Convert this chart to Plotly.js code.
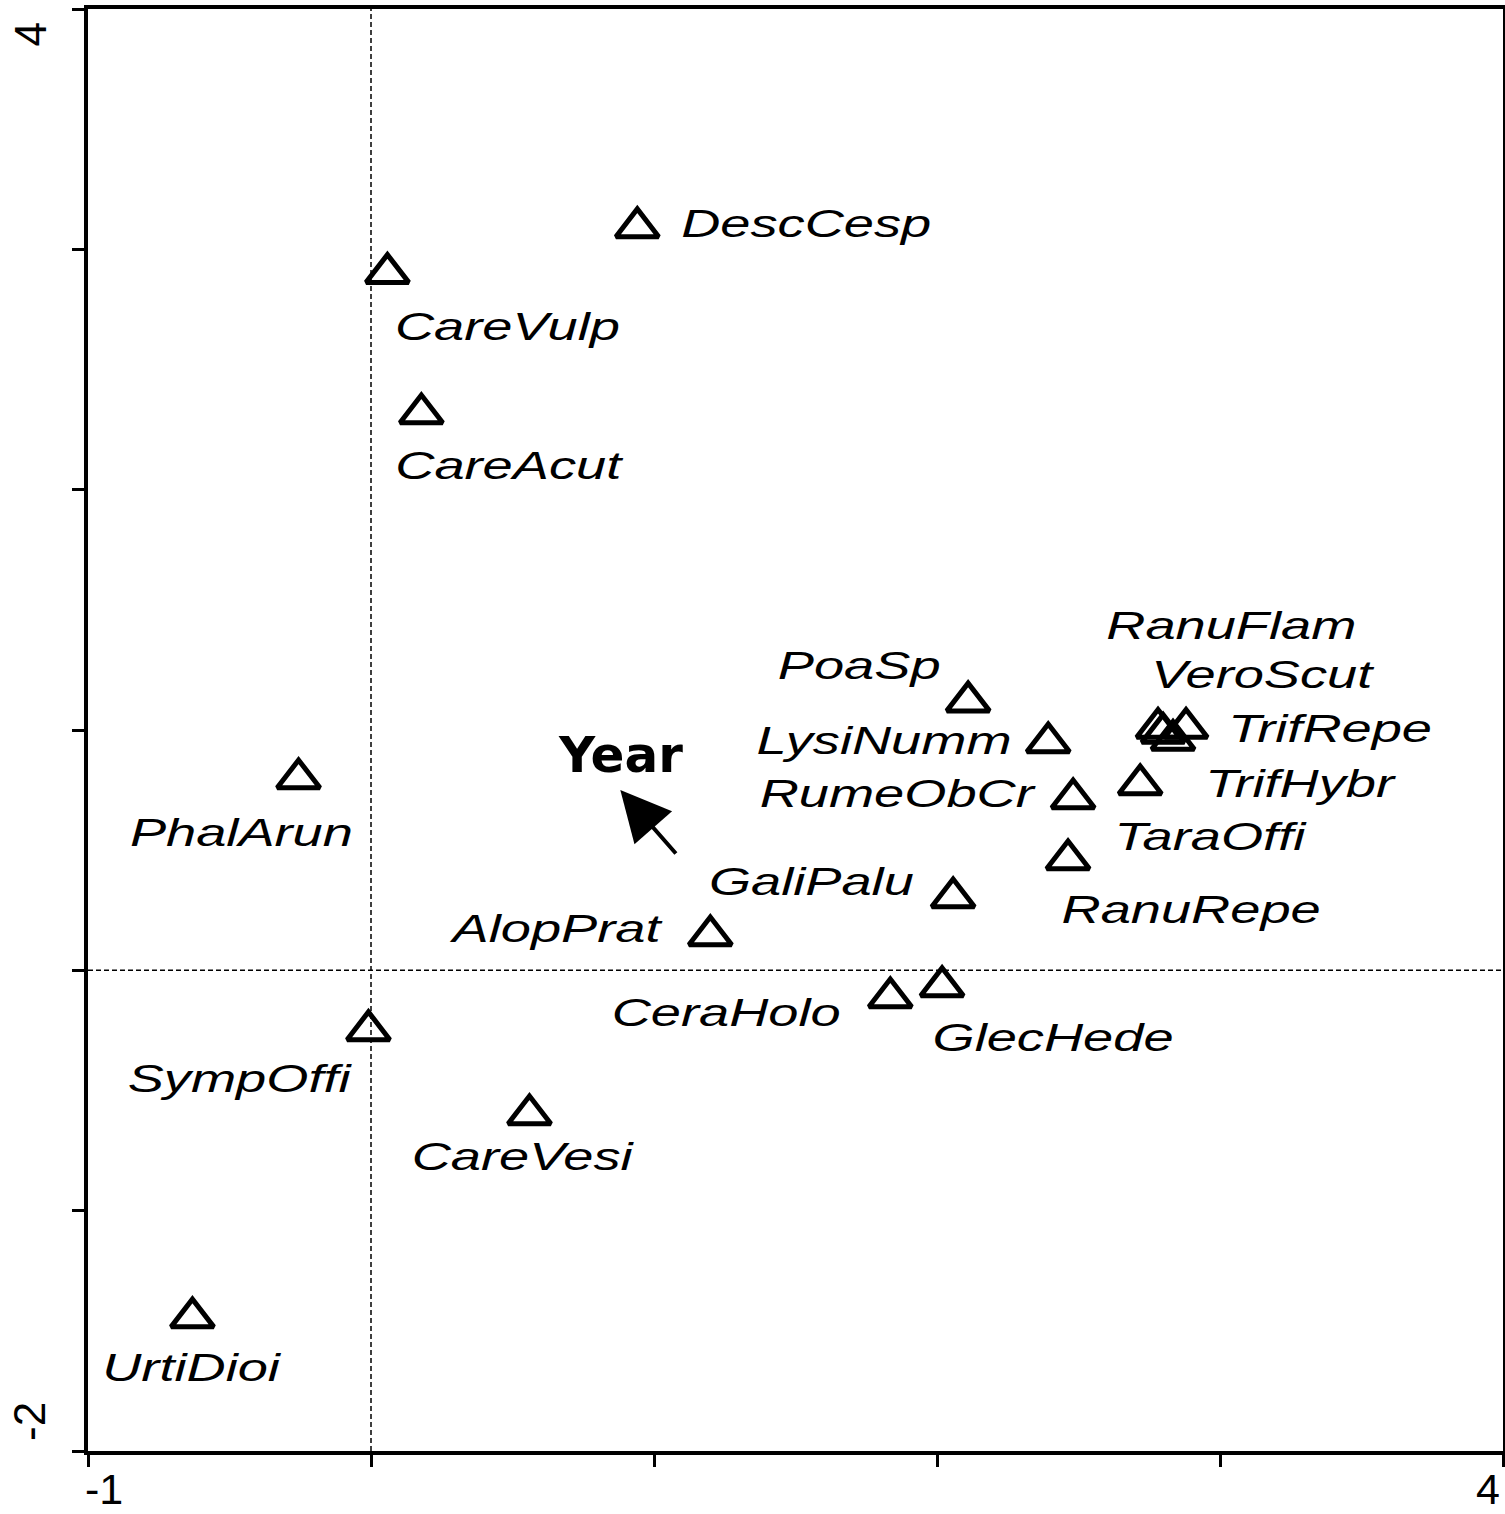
<!DOCTYPE html>
<html>
<head>
<meta charset="utf-8">
<script src="https://cdn.plot.ly/plotly-3.0.1.min.js"></script>
<style>
  html, body { margin: 0; padding: 0; background: #ffffff; }
  #chart { width: 1505px; height: 1514px; }
  /* the reference draws its species names in a horizontally widened italic sans */
  .scatterlayer .textpoint text {
    transform-box: fill-box;
    transform-origin: center;
    transform: scaleX(1.39);
  }
</style>
</head>
<body>
<div id="chart"></div>
<script>
// ---- Data ----
const species = ['DescCesp','CareVulp','CareAcut','PoaSp','RanuFlam','VeroScut','TrifRepe','TrifHybr',
  'LysiNumm','TaraOffi','RumeObCr','RanuRepe','GaliPalu','AlopPrat','CeraHolo','GlecHede',
  'PhalArun','SympOffi','CareVesi','UrtiDioi'];
const speciesX = [0.941, 0.058, 0.178, 2.110, 2.781, 2.880, 2.799, 2.834,
  2.393, 2.718, 2.481, 2.463, 2.057, 1.199, 1.835, 2.018,
  -0.256, -0.009, 0.560, -0.631];
const speciesY = [3.091, 2.901, 2.317, 1.118, 1.008, 1.008, 0.987, 0.958,
  0.948, 0.773, 0.715, 0.461, 0.303, 0.145, -0.113, -0.067,
  0.798, -0.250, -0.600, -1.445];
// label anchor points (centre of each label), in axis units
const labelX = [1.538, 0.482, 0.486, 1.725, 3.040, 3.149, 3.389, 3.283,
  1.813, 2.965, 1.859, 2.898, 1.556, 0.655, 1.255, 2.410,
  -0.458, -0.465, 0.535, -0.635];
const labelY = [3.093, 2.664, 2.086, 1.253, 1.420, 1.216, 0.991, 0.762,
  0.941, 0.542, 0.721, 0.238, 0.355, 0.159, -0.191, -0.295,
  0.558, -0.465, -0.790, -1.668];

// supplementary variable arrow
const envName = 'Year';
const envTail = [1.082, 0.480];
const envTip = [0.881, 0.750];
const envLabel = [0.881, 0.895];

// axes
const xRange = [-1, 4];
const yRange = [-2, 4];
const xTickVals = [-1, 0, 1, 2, 3, 4];
const xTickText = ['-1', '', '', '', '', '4'];
const yTickVals = [-2, -1, 0, 1, 2, 3, 4];
const yTickText = ['-2', '', '', '', '', '', '4'];

// ---- Traces ----
const pointTrace = {
  type: 'scatter', mode: 'markers',
  x: speciesX, y: speciesY,
  marker: { symbol: 'triangle-up-open', size: 37, color: '#000000', line: { width: 5, color: '#000000' } },
  hoverinfo: 'skip', showlegend: false, cliponaxis: false
};
const labelTrace = {
  type: 'scatter', mode: 'text',
  x: labelX, y: labelY, text: species,
  textposition: 'middle center',
  textfont: { family: 'Liberation Sans', size: 39, style: 'italic', color: '#000000' },
  hoverinfo: 'skip', showlegend: false, cliponaxis: false
};

// ---- Annotations: arrow, its label, and edge tick labels ----
const annotations = [];
annotations.push({
  x: envTip[0], y: envTip[1], ax: envTail[0], ay: envTail[1],
  xref: 'x', yref: 'y', axref: 'x', ayref: 'y',
  text: '', showarrow: true, arrowhead: 2, arrowsize: 2.5, arrowwidth: 4,
  arrowcolor: '#000000', standoff: 0
});
annotations.push({
  x: envLabel[0], y: envLabel[1], xref: 'x', yref: 'y',
  text: '<b>' + envName + '</b>', showarrow: false,
  font: { family: 'DejaVu Sans', size: 50, color: '#000000' },
  xanchor: 'center', yanchor: 'middle'
});
xTickVals.forEach((v, i) => {
  if (!xTickText[i]) return;
  const first = i === 0;
  annotations.push({
    x: v, xref: 'x', y: 0, yref: 'paper', text: xTickText[i], showarrow: false,
    xanchor: first ? 'left' : 'right', yanchor: 'top', yshift: -13, borderpad: 0,
    xshift: first ? -4 : -2,
    font: { family: 'Liberation Sans', size: 43, color: '#000000' }
  });
});
yTickVals.forEach((v, i) => {
  if (!yTickText[i]) return;
  const first = i === 0;
  annotations.push({
    x: 0, xref: 'paper', y: v, yref: 'y', text: yTickText[i], showarrow: false,
    textangle: -90, xanchor: 'right', yanchor: first ? 'bottom' : 'top',
    xshift: -32, yshift: first ? 8 : -12,
    font: { family: 'Liberation Sans', size: 44, color: '#000000' }
  });
});

// dotted zero lines
const shapes = [
  { type: 'line', xref: 'x', yref: 'paper', x0: 0, x1: 0, y0: 0, y1: 1, layer: 'below',
    line: { color: '#000000', width: 1.5, dash: '5px,3px' } },
  { type: 'line', xref: 'paper', yref: 'y', x0: 0, x1: 1, y0: 0, y1: 0, layer: 'below',
    line: { color: '#000000', width: 1.5, dash: '5px,3px' } }
];

const axisCommon = {
  showgrid: false, zeroline: false, showline: true, linecolor: '#000000', linewidth: 4,
  mirror: true, ticks: 'outside', ticklen: 12, tickwidth: 3, tickcolor: '#000000',
  showticklabels: false, tickmode: 'array', fixedrange: true
};

const layout = {
  width: 1505, height: 1514,
  margin: { l: 88, r: 2, t: 9, b: 63, pad: 0 },
  paper_bgcolor: '#ffffff', plot_bgcolor: '#ffffff',
  showlegend: false,
  xaxis: Object.assign({}, axisCommon, { range: xRange, tickvals: xTickVals }),
  yaxis: Object.assign({}, axisCommon, { range: yRange, tickvals: yTickVals }),
  shapes: shapes,
  annotations: annotations
};

Plotly.newPlot('chart', [pointTrace, labelTrace], layout, { displayModeBar: false, staticPlot: true });
</script>
</body>
</html>
